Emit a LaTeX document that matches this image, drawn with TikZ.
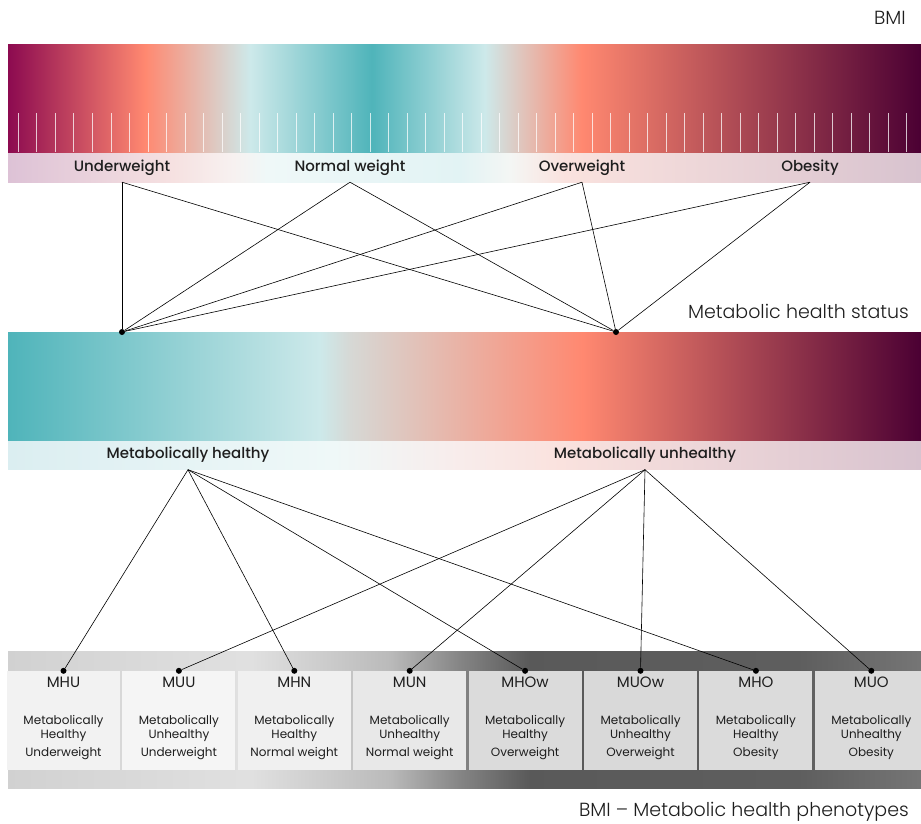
\documentclass[tikz,border=0pt]{standalone}
\usepackage{fontspec}
\setmainfont{Poppins}
\newfontfamily\medfont{Poppins Medium}
\newfontfamily\lightfont{Poppins Light}
\usetikzlibrary{positioning}

\definecolor{ink}{HTML}{1E1E1E}
\definecolor{wine}{HTML}{8C0A50}
\definecolor{salmon}{HTML}{FF8870}
\definecolor{paleteal}{HTML}{CDE9EA}
\definecolor{teal}{HTML}{4FB4BA}
\definecolor{plum}{HTML}{4B0033}
\definecolor{greyish}{HTML}{D6D8D5}
\definecolor{lilac}{HTML}{DDC2D6}
\definecolor{lilacr}{HTML}{D8C3CF}
\definecolor{blush}{HTML}{F6E1E1}
\definecolor{blushb}{HTML}{FAE2DE}
\definecolor{snow}{HTML}{F7F1F0}
\definecolor{ice}{HTML}{EFF8F8}
\definecolor{iceb}{HTML}{E2F3F4}
\definecolor{mist}{HTML}{F4F6F4}
\definecolor{icec}{HTML}{DBEEF1}
\definecolor{blushc}{HTML}{F8ECEB}

\pgfdeclarehorizontalshading{bmibar}{100bp}{color(0bp)=(wine); color(25bp)=(wine);
  color(32.5bp)=(salmon); color(38.25bp)=(paleteal); color(44.93bp)=(teal);
  color(51.12bp)=(paleteal); color(56.43bp)=(salmon); color(75bp)=(plum); color(100bp)=(plum)}
\pgfdeclarehorizontalshading{bmistrip}{100bp}{color(0bp)=(lilac); color(25bp)=(lilac);
  color(34.04bp)=(blush); color(37.32bp)=(snow); color(39.18bp)=(ice); color(49.75bp)=(iceb);
  color(52.49bp)=(mist); color(55.5bp)=(blushb); color(75bp)=(lilacr); color(100bp)=(lilacr)}
\pgfdeclarehorizontalshading{statusbar}{100bp}{color(0bp)=(teal); color(25bp)=(teal);
  color(42.09bp)=(paleteal); color(43.73bp)=(greyish); color(56.49bp)=(salmon);
  color(75bp)=(plum); color(100bp)=(plum)}
\pgfdeclarehorizontalshading{statusstrip}{100bp}{color(0bp)=(icec); color(25bp)=(icec);
  color(42.8bp)=(ice); color(49.75bp)=(blushc); color(55.23bp)=(blushb);
  color(75bp)=(lilacr); color(100bp)=(lilacr)}
\pgfdeclarehorizontalshading{phenoband}{100bp}{color(0bp)=(black!18); color(25bp)=(black!18);
  color(38.25bp)=(black!12); color(45.92bp)=(black!27); color(49.75bp)=(black!48);
  color(53.59bp)=(black!65); color(68.37bp)=(black!63); color(75bp)=(black!54); color(100bp)=(black!54)}

\begin{document}
\begin{tikzpicture}[x=1pt,y=-1pt,
  link/.style={draw=black, line width=0.6pt},
  dot/.style={circle, fill=black, inner sep=0pt, minimum size=6pt},
  tickmark/.style={white, opacity=0.75, line width=0.7pt},
  bmilabel/.style={font=\medfont\fontsize{15}{18}\selectfont, text=ink, minimum height=29pt, inner sep=0pt},
  phenobox/.style={minimum width=113pt, minimum height=99pt, inner sep=0pt},
  phenotitle/.style={font=\fontsize{15}{18}\selectfont, text=ink, inner sep=0pt},
  phenotext/.style={font=\fontsize{12}{14}\selectfont, text=ink, align=center, inner sep=0pt},
  heading/.style={font=\lightfont\fontsize{19}{23}\selectfont, text=ink, anchor=east, inner sep=0pt}]
  \path[fill=white, use as bounding box] (0,0) rectangle (921,823);

  \shade[shading=bmibar] (8,44) rectangle (921,153);
  \shade[shading=bmistrip] (8,153) rectangle (921,182);
  \foreach \i in {0,...,48} {
    \draw[tickmark] ({18.3+18.51*\i},113) -- ({18.3+18.51*\i},152);
  }
  \node[heading] (bmi) at (906,18) {BMI};
  \node[bmilabel] (under) at (122,167.5) {Underweight};
  \node[bmilabel] (normal) at (350,167.5) {Normal weight};
  \node[bmilabel] (over) at (582,167.5) {Overweight};
  \node[bmilabel] (obese) at (810,167.5) {Obesity};

  \shade[shading=statusbar] (8,332) rectangle (921,441);
  \shade[shading=statusstrip] (8,441) rectangle (921,469);
  \node[heading] (status) at (909,311) {Metabolic health status};
  \node[bmilabel] (healthy) at (188,455) {Metabolically healthy};
  \node[bmilabel] (unhealthy) at (645,455) {Metabolically unhealthy};
  \node[dot] (hdot) at (122,332) {};
  \node[dot] (udot) at (616,332) {};
  \foreach \src in {under,normal,over,obese} {
    \foreach \dst in {hdot,udot} {
      \draw[link] (\src.south) -- (\dst);
    }
  }

  \shade[shading=phenoband] (8,651) rectangle (921,788);
  \foreach \code/\state/\weight/\tone [count=\k from 0] in {
      MHU/Healthy/Underweight/black!5, MUU/Unhealthy/Underweight/black!4,
      MHN/Healthy/Normal weight/black!6, MUN/Unhealthy/Normal weight/black!9,
      MHOw/Healthy/Overweight/black!14, MUOw/Unhealthy/Overweight/black!15,
      MHO/Healthy/Obesity/black!14, MUO/Unhealthy/Obesity/black!14} {
    \node[phenobox, fill=\tone] (b\code) at ({63.5+115.4*\k},720.5) {};
    \node[phenotitle, below=6pt of b\code.north] (t\code) {\code};
    \node[phenotext, below=27pt of t\code] {Metabolically\\\state\\[4pt]\weight};
    \node[dot] (d\code) at (b\code.north) {};
  }
  \foreach \dst in {MHU,MHN,MHOw,MHO} {
    \draw[link] (healthy.south) -- (d\dst);
  }
  \foreach \dst in {MUU,MUN,MUOw,MUO} {
    \draw[link] (unhealthy.south) -- (d\dst);
  }
  \node[heading, anchor=base east] (title) at (909,816) {BMI – Metabolic health phenotypes};
\end{tikzpicture}
\end{document}
